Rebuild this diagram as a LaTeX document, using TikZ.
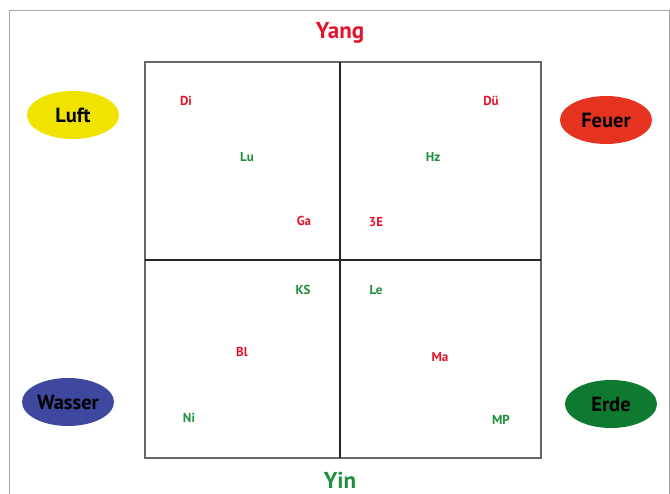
\documentclass[tikz,border=0pt]{standalone}
\usepackage{fontspec}
\setmainfont{PT Sans}
\usepackage{xcolor}
\usetikzlibrary{shapes.geometric}
\definecolor{yangred}{HTML}{E3132C}
\definecolor{yingreen}{HTML}{1F8E3D}
\definecolor{luftgelb}{HTML}{F1E300}
\definecolor{feuerrot}{HTML}{E6331F}
\definecolor{wasserblau}{HTML}{3D489E}
\definecolor{erdegruen}{HTML}{0E7A2F}
\tikzset{
  elempicture/.style={x=1pt, y=-1pt},
  elemframe/.style={draw=gray!70, line width=1pt},
  elemgrid/.style={draw=gray!80!black, line width=1.2pt},
  elemaxis/.style={draw=black!85, line width=1.8pt},
  elemtitle/.style={font=\fontsize{23}{25}\selectfont\bfseries},
  elemoval/.style={ellipse, draw=none, minimum width=92pt, minimum height=48pt, inner sep=0pt, font=\fontsize{20.5}{22}\selectfont\bfseries, text=black},
  organred/.style={text=yangred, font=\fontsize{13}{15}\selectfont\bfseries},
  organgreen/.style={text=yingreen, font=\fontsize{13}{15}\selectfont\bfseries}
}
\begin{document}
\begin{tikzpicture}[elempicture]
\useasboundingbox (0,0) rectangle (670,494);
\begin{scope}
\clip (0,0) rectangle (670,494);
\draw[elemframe] (9,11) rectangle (669,510);
\end{scope}
% square and axes
\draw[elemgrid] (145,62) rectangle (541,458);
\draw[elemaxis] (340,62) -- (340,458);
\draw[elemaxis] (145,260) -- (541,260);
% titles
\node[elemtitle, text=yangred] (yang) at (340,33) {Yang};
\node[elemtitle, text=yingreen] (yin) at (340,480) {Yin};
% elements
\node[elemoval, fill=luftgelb] (luft) at (73,115) {Luft};
\node[elemoval, fill=feuerrot] (feuer) at (606,120) {Feuer};
\node[elemoval, fill=wasserblau] (wasser) at (68,402) {Wasser};
\node[elemoval, fill=erdegruen] (erde) at (611,404) {Erde};
% organs
\node[organred] (di) at (186,101) {Di};
\node[organgreen] (lu) at (247,157) {Lu};
\node[organred] (ga) at (304,221) {Ga};
\node[organred] (due) at (491,101) {Dü};
\node[organgreen] (hz) at (433,157) {Hz};
\node[organred] (dreie) at (376,222) {3E};
\node[organgreen] (ks) at (303,290) {KS};
\node[organred] (bl) at (242,352) {Bl};
\node[organgreen] (ni) at (189,418) {Ni};
\node[organgreen] (le) at (376,290) {Le};
\node[organred] (ma) at (440,357) {Ma};
\node[organgreen] (mp) at (501,420) {MP};
\end{tikzpicture}
\end{document}
